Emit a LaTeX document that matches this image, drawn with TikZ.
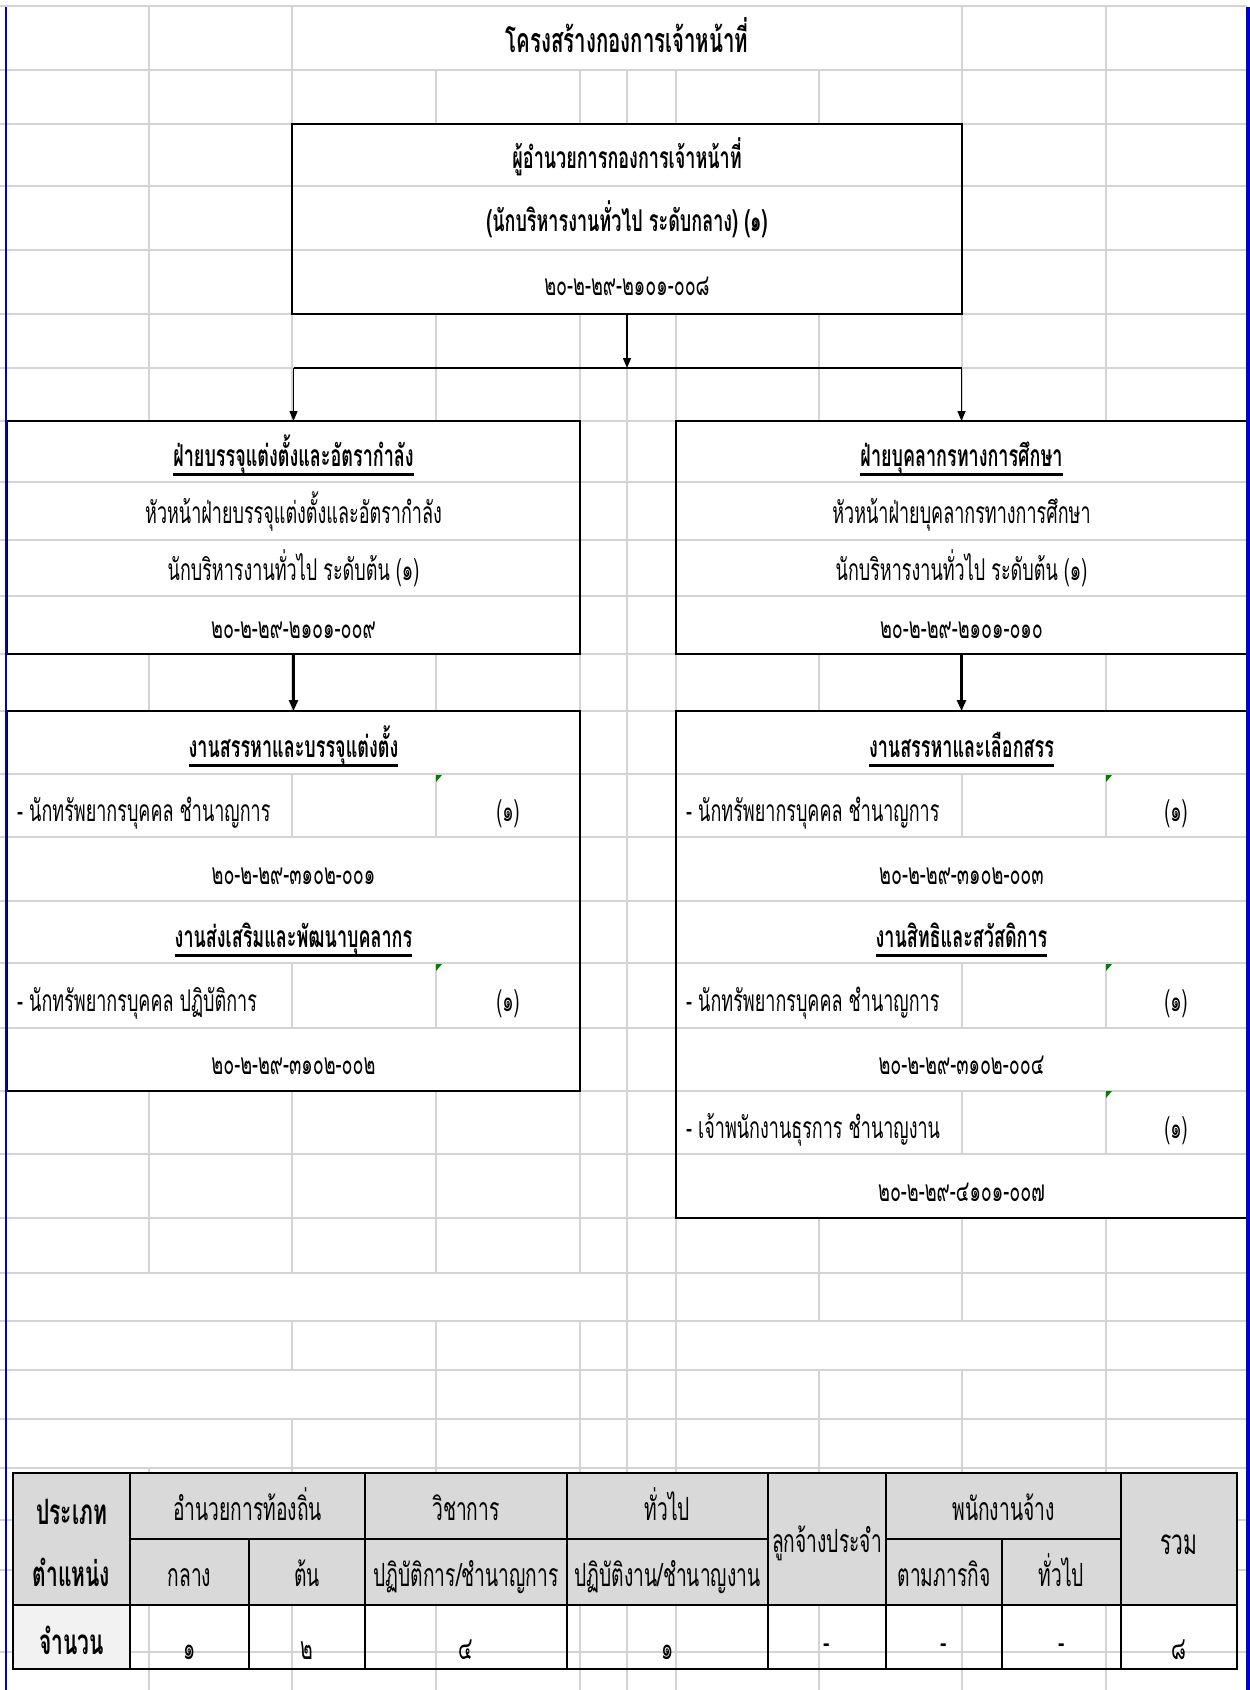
\documentclass[tikz,border=0pt]{standalone}
\usepackage{fontspec}
\usetikzlibrary{arrows.meta}
\newfontfamily\thfont[Script=Thai,FakeStretch=0.6]{Loma}
\definecolor{gridc}{HTML}{D4D4D4}
\definecolor{hdr}{HTML}{D9D9D9}
\definecolor{lite}{HTML}{F2F2F2}
\definecolor{xlblue}{HTML}{0000D0}
\definecolor{mark}{HTML}{008000}
\newcommand\ulin[1]{\setbox0\hbox{#1}\leavevmode\rlap{\vrule width\wd0 height -7pt depth 9.5pt}\box0}
\tikzset{
  grid/.style={draw=gridc, line width=1.8pt},
  box/.style={draw=black, line width=1.8pt, inner sep=0pt, outer sep=0pt},
  reg/.style={anchor=base, inner sep=0pt, font=\thfont\fontsize{30}{34}\selectfont},
  bld/.style={anchor=base, inner sep=0pt, font=\thfont\bfseries\fontsize{30}{34}\selectfont},
  item/.style={reg, anchor=base west},
  ttl/.style={anchor=base, inner sep=0pt, font=\thfont\bfseries\fontsize{34}{38}\selectfont},
  tb/.style={anchor=base, inner sep=0pt, font=\thfont\fontsize{32}{36}\selectfont},
  tbl/.style={anchor=base, inner sep=0pt, font=\thfont\fontsize{35}{39}\selectfont},
  tbb/.style={anchor=base, inner sep=0pt, font=\thfont\bfseries\fontsize{35}{39}\selectfont},
  conn/.style={line width=1.4pt},
  thinarr/.style={line width=1.4pt, -{Triangle[length=10pt,width=8pt]}},
  thickarr/.style={line width=2.6pt, -{Triangle[length=11pt,width=9pt]}},
  tline/.style={line width=2.6pt},
  gmark/.style={fill=mark},
}
\begin{document}
\begin{tikzpicture}[x=1pt,y=-1pt]
\useasboundingbox (0,0) rectangle (1250,1690);
\fill[white] (0,0) rectangle (1250,1690);
% ---------- grid: horizontal lines
\foreach \y in {6,70,124,186,250,314,368,421,482,540,596,654,711,774,837,901,963,1028,1091,1154,1218,1273,1321,1370,1419,1468,1520,1570,1652}
  \draw[grid] (0,\y) -- (1247,\y);
% ---------- grid: vertical segments
\foreach \x/\a/\b in {149/6/421, 149/654/711, 149/1091/1273, 149/1468/1690,
 292/6/124, 292/314/421, 292/654/711, 292/774/837, 292/963/1028, 292/1091/1273, 292/1321/1370, 292/1419/1690,
 436/70/124, 436/314/421, 436/654/711, 436/774/837, 436/963/1028, 436/1091/1273, 436/1321/1690,
 580/70/124, 580/314/421, 580/654/711, 580/1091/1273, 580/1321/1690,
 627/70/124, 627/314/1690,
 676/70/124, 676/314/421, 676/654/711, 676/1218/1690,
 819/70/124, 819/314/421, 819/654/711, 819/1218/1321, 819/1370/1690,
 962/6/124, 962/314/421, 962/654/711, 962/774/837, 962/963/1028, 962/1090/1154, 962/1218/1321, 962/1370/1690,
 1106/6/421, 1106/654/711, 1106/774/837, 1106/963/1028, 1106/1090/1154, 1106/1218/1690}
  \draw[grid] (\x,\a) -- (\x,\b);

% ---------- title
\node[ttl] (title) at (627,52) {โครงสร้างกองการเจ้าหน้าที่};

% ---------- boxes
\node[box, minimum width=670pt, minimum height=190pt] (b1) at (627,219) {};
\node[box, minimum width=573pt, minimum height=233pt] (b2l) at (293.5,537.5) {};
\node[box, minimum width=571pt, minimum height=233pt] (b2r) at (961.5,537.5) {};
\node[box, minimum width=573pt, minimum height=380pt] (b3l) at (293.5,901) {};
\node[box, minimum width=571pt, minimum height=507pt] (b3r) at (961.5,964.5) {};

% ---------- box 1 text
\node[bld] (b1a) at (627,168) {ผู้อำนวยการกองการเจ้าหน้าที่};
\node[bld] (b1b) at (627,231) {(นักบริหารงานทั่วไป ระดับกลาง) (๑)};
\node[reg] (b1c) at (627,295) {๒๐-๒-๒๙-๒๑๐๑-๐๐๘};

% ---------- box 2 left
\node[bld] (l2a) at (293.5,466) {\ulin{ฝ่ายบรรจุแต่งตั้งและอัตรากำลัง}};
\node[reg] (l2b) at (293.5,523) {หัวหน้าฝ่ายบรรจุแต่งตั้งและอัตรากำลัง};
\node[reg] (l2c) at (293.5,580) {นักบริหารงานทั่วไป ระดับต้น (๑)};
\node[reg] (l2d) at (293.5,638) {๒๐-๒-๒๙-๒๑๐๑-๐๐๙};

% ---------- box 2 right
\node[bld] (r2a) at (961.5,466) {\ulin{ฝ่ายบุคลากรทางการศึกษา}};
\node[reg] (r2b) at (961.5,523) {หัวหน้าฝ่ายบุคลากรทางการศึกษา};
\node[reg] (r2c) at (961.5,580) {นักบริหารงานทั่วไป ระดับต้น (๑)};
\node[reg] (r2d) at (961.5,638) {๒๐-๒-๒๙-๒๑๐๑-๐๑๐};

% ---------- box 3 left
\node[bld] (l3a) at (293.5,757) {\ulin{งานสรรหาและบรรจุแต่งตั้ง}};
\node[item] (l3b) at (17,821) {- นักทรัพยากรบุคคล ชำนาญการ};
\node[reg] (l3bn) at (508,821) {(๑)};
\node[reg] (l3c) at (293.5,884) {๒๐-๒-๒๙-๓๑๐๒-๐๐๑};
\node[bld] (l3d) at (293.5,947) {\ulin{งานส่งเสริมและพัฒนาบุคลากร}};
\node[item] (l3e) at (17,1011) {- นักทรัพยากรบุคคล ปฏิบัติการ};
\node[reg] (l3en) at (508,1011) {(๑)};
\node[reg] (l3f) at (293.5,1074) {๒๐-๒-๒๙-๓๑๐๒-๐๐๒};

% ---------- box 3 right
\node[bld] (r3a) at (961.5,757) {\ulin{งานสรรหาและเลือกสรร}};
\node[item] (r3b) at (686,821) {- นักทรัพยากรบุคคล ชำนาญการ};
\node[reg] (r3bn) at (1176,821) {(๑)};
\node[reg] (r3c) at (961.5,884) {๒๐-๒-๒๙-๓๑๐๒-๐๐๓};
\node[bld] (r3d) at (961.5,947) {\ulin{งานสิทธิและสวัสดิการ}};
\node[item] (r3e) at (686,1011) {- นักทรัพยากรบุคคล ชำนาญการ};
\node[reg] (r3en) at (1176,1011) {(๑)};
\node[reg] (r3f) at (961.5,1074) {๒๐-๒-๒๙-๓๑๐๒-๐๐๔};
\node[item] (r3g) at (686,1138) {- เจ้าพนักงานธุรการ ชำนาญงาน};
\node[reg] (r3gn) at (1176,1138) {(๑)};
\node[reg] (r3h) at (961.5,1201) {๒๐-๒-๒๙-๔๑๐๑-๐๐๗};

% ---------- green markers
\foreach \mx/\my in {436/775, 436/964, 1106/775, 1106/964, 1106/1091}
  \fill[gmark] (\mx,\my) -- ++(6,0) -- ++(-6,7) -- cycle;

% ---------- connectors
\coordinate (j) at (627,368);
\coordinate (jl) at (293.5,368);
\coordinate (jr) at (961.5,368);
\draw[thinarr] (b1.south) -- (j);
\draw[conn] (jl) -- (jr);
\draw[thinarr] (jl) -- (b2l.north);
\draw[thinarr] (jr) -- (b2r.north);
\draw[thickarr] (b2l.south) -- (b3l.north);
\draw[thickarr] (b2r.south) -- (b3r.north);

% ---------- summary table
\fill[hdr] (13,1473) rectangle (1237,1605);
\fill[lite] (13,1605) rectangle (130,1669);
\draw[tline] (13,1473) rectangle (1237,1669);
\draw[tline] (130,1539) -- (768,1539);
\draw[tline] (886,1539) -- (1121,1539);
\draw[tline] (13,1605) -- (1237,1605);
\foreach \x in {130,365,567,768,886,1121} \draw[tline] (\x,1473) -- (\x,1669);
\foreach \x in {249,1002} \draw[tline] (\x,1539) -- (\x,1669);

\node[tbb] (t1) at (71.5,1524) {ประเภท};
\node[tbb] (t2) at (71.5,1586) {ตำแหน่ง};
\node[tb] (t3) at (247.5,1520) {อำนวยการท้องถิ่น};
\node[tb] (t4) at (466,1520) {วิชาการ};
\node[tb] (t5) at (667.5,1520) {ทั่วไป};
\node[tb] (t6) at (827,1552) {ลูกจ้างประจำ};
\node[tb] (t7) at (1003.5,1520) {พนักงานจ้าง};
\node[tbl] (t8) at (1179,1554) {รวม};
\node[tb] (t9) at (189.5,1586) {กลาง};
\node[tb] (t10) at (307,1586) {ต้น};
\node[tb] (t11) at (466,1586) {ปฏิบัติการ/ชำนาญการ};
\node[tb] (t12) at (667.5,1586) {ปฏิบัติงาน/ชำนาญงาน};
\node[tb] (t13) at (944,1586) {ตามภารกิจ};
\node[tb] (t14) at (1061.5,1586) {ทั่วไป};
\node[tbb] (t15) at (71.5,1654) {จำนวน};
\node[tb] (t16) at (189.5,1659) {๑};
\node[tb] (t17) at (307,1659) {๒};
\node[tb] (t18) at (466,1659) {๔};
\node[tb] (t19) at (667.5,1659) {๑};
\node[tb] (t20) at (827,1653) {-};
\node[tb] (t21) at (944,1653) {-};
\node[tb] (t22) at (1061.5,1653) {-};
\node[tb] (t23) at (1179,1659) {๘};

% ---------- window borders
\fill[xlblue] (4.5,7) rectangle (7,1690);
\fill[xlblue] (1246,7) rectangle (1250,1690);
\end{tikzpicture}
\end{document}
